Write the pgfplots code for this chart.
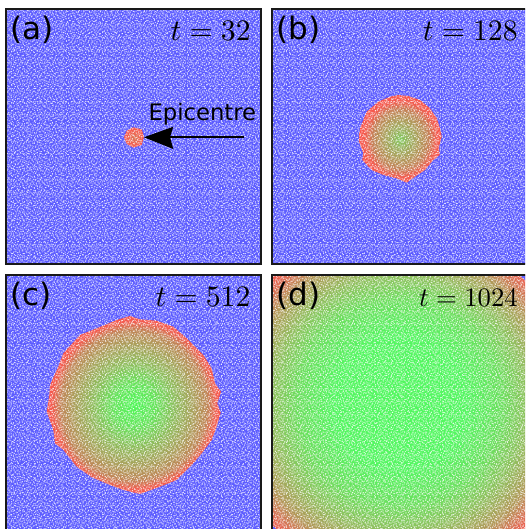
\documentclass[border=0pt]{standalone}
\usepackage{fontspec}
\setsansfont{DejaVu Sans}
\usepackage{pgfplots}
\pgfplotsset{compat=1.18}
\usetikzlibrary{patterns}

\definecolor{bgblue}{RGB}{70,70,255}
\definecolor{framec}{RGB}{25,25,25}

% mean colour against radius (bbox half-width = 25bp)
\pgfdeclareradialshading{blobA}{\pgfpointorigin}{rgb(0bp)=(.84,.40,.25); rgb(12bp)=(.92,.32,.23); rgb(25bp)=(.98,.24,.20); rgb(50bp)=(.98,.24,.20)}
\pgfdeclareradialshading{blobB}{\pgfpointorigin}{rgb(0bp)=(.44,.76,.28); rgb(5bp)=(.54,.66,.28); rgb(11bp)=(.64,.56,.27); rgb(17bp)=(.74,.44,.25); rgb(21.5bp)=(.94,.28,.22); rgb(25bp)=(.98,.24,.20); rgb(50bp)=(.98,.24,.20)}
\pgfdeclareradialshading{blobC}{\pgfpointorigin}{rgb(0bp)=(.22,.97,.26); rgb(6bp)=(.32,.88,.27); rgb(12bp)=(.50,.70,.27); rgb(17bp)=(.62,.58,.27); rgb(21bp)=(.72,.46,.25); rgb(23.5bp)=(.94,.28,.22); rgb(25bp)=(.98,.24,.20); rgb(50bp)=(.98,.24,.20)}
\pgfdeclareradialshading{blobD}{\pgfpointorigin}{rgb(0bp)=(.22,.97,.28); rgb(13bp)=(.24,.96,.30); rgb(20bp)=(.34,.86,.28); rgb(25bp)=(.50,.72,.28); rgb(30bp)=(.66,.54,.26); rgb(33bp)=(.84,.36,.24); rgb(35.4bp)=(.97,.24,.20); rgb(50bp)=(.97,.24,.20)}

% speckle tiles: hand-typed pixel lists, periods 11, 13 and 17
\newcommand{\pxrow}[2]{\foreach \c in {#2} {\pgfpathrectangle{\pgfpoint{\c pt}{#1pt}}{\pgfpoint{1pt}{1pt}}}}
\pgfdeclarepatternformonly{speckA}{\pgfpointorigin}{\pgfpoint{11pt}{11pt}}{\pgfpoint{11pt}{11pt}}{%
  \pxrow{0}{1}\pxrow{1}{7}\pxrow{2}{4}\pxrow{3}{9}\pxrow{4}{0,6}\pxrow{5}{3}\pxrow{6}{10}\pxrow{7}{5}\pxrow{8}{2,8}\pxrow{9}{0}\pxrow{10}{6,9}\pgfusepath{fill}}
\pgfdeclarepatternformonly{speckB}{\pgfpointorigin}{\pgfpoint{13pt}{13pt}}{\pgfpoint{13pt}{13pt}}{%
  \pxrow{0}{2,9}\pxrow{1}{5}\pxrow{2}{12}\pxrow{3}{0,7}\pxrow{4}{3}\pxrow{5}{10}\pxrow{6}{6}\pxrow{7}{1,11}\pxrow{8}{4}\pxrow{9}{8}\pxrow{10}{0,12}\pxrow{11}{3,6}\pxrow{12}{1,8,10}\pgfusepath{fill}}
\pgfdeclarepatternformonly{speckC}{\pgfpointorigin}{\pgfpoint{17pt}{17pt}}{\pgfpoint{17pt}{17pt}}{%
  \pxrow{0}{0,9}\pxrow{1}{7,12}\pxrow{2}{3,15}\pxrow{3}{6,13}\pxrow{4}{0,11}\pxrow{5}{2,14}\pxrow{6}{5,10}\pxrow{7}{8,16}\pxrow{8}{4,11}\pxrow{9}{1,14}\pxrow{10}{6,12}\pxrow{11}{3,9}\pxrow{12}{7,16}\pxrow{13}{0,4}\pxrow{14}{12,14}\pxrow{15}{5,10}\pxrow{16}{1,11}\pgfusepath{fill}}

\pgfplotsset{
  panel/.style={
    scale only axis, width=255pt, height=255pt, anchor=south west,
    xmin=0, xmax=255, ymin=0, ymax=255, y dir=reverse,
    xtick=\empty, ytick=\empty, axis on top,
    axis line style={framec, line width=1.3pt},
  },
}
\newcommand{\panelbg}{\addplot[draw=none, fill=bgblue] coordinates {(0,0)(255,0)(255,255)(0,255)} -- cycle;}
\newcommand{\speckle}{%
  \addplot[draw=none, fill=white, fill opacity=.12] coordinates {(0,0)(255,0)(255,255)(0,255)} -- cycle;
  \addplot[draw=none, pattern=speckA, pattern color=white, fill opacity=.7] coordinates {(0,0)(255,0)(255,255)(0,255)} -- cycle;
  \addplot[draw=none, pattern=speckB, pattern color=white, fill opacity=.7] coordinates {(0,0)(255,0)(255,255)(0,255)} -- cycle;
  \addplot[draw=none, pattern=speckC, pattern color=white, fill opacity=.7] coordinates {(0,0)(255,0)(255,255)(0,255)} -- cycle;}
\newcommand{\plabel}[3]{\node[anchor=base west, inner sep=0pt, font=\sffamily\fontsize{31}{33}\selectfont, text=black] at (axis cs:#1,#2) {#3};}
\newcommand{\tlabel}[4][2.97]{\node[anchor=base east, inner sep=0pt, scale=#1, font=\normalsize, text=black] at (axis cs:#2,#3) {$t=#4$};}

\begin{document}
\begin{tikzpicture}[x=1pt,y=1pt]
\path[use as bounding box, clip] (0pt,0pt) rectangle (525pt,529pt);

% (a)
\begin{axis}[panel, at={(6pt,265pt)}]
\panelbg
\addplot[draw=none, shading=blobA] coordinates {(127.3,118.3)(135.7,120.3)(138,127.7)(135.7,136)(127.3,138.7)(120.7,135)(118,128.3)(120.7,121.7)} -- cycle;
\speckle
\addplot[black, line width=1.8pt] coordinates {(160,128.3)(238.3,128.3)};
\addplot[draw=none, fill=black] coordinates {(138,128.3)(167.3,117.7)(164,128.3)(167.3,140)} -- cycle;
\plabel{4.5}{30.5}{(a)}
\tlabel{245.3}{32}{32}
\node[anchor=base west, inner sep=0pt, font=\sffamily\fontsize{22.7}{24}\selectfont] at (axis cs:142.3,111.7) {Epicentre};
\end{axis}

% (b)
\begin{axis}[panel, at={(272pt,265pt)}]
\panelbg
\addplot[draw=none, shading=blobB] coordinates {(126.3,86)(136.3,87)(148,91)(158,99.3)(164.7,109.3)(168,119.3)(169.7,127.7)(167,137.7)(167.7,146)(161.3,151)(153,161)(143,167.7)(134.7,173.7)(124.7,169.3)(111.3,166)(99.7,161)(90.3,151)(91.3,144.3)(87,132.7)(88,119.3)(94.7,102.7)(106.3,92.7)(118,87.7)} -- cycle;
\speckle
\plabel{4.5}{30.5}{(b)}
\tlabel{246.3}{32}{128}
\end{axis}

% (c)
\begin{axis}[panel, at={(6pt,-1pt)}]
\panelbg
\addplot[draw=none, shading=blobC] coordinates {(124,41)(134,44.3)(150.7,45.7)(167.3,51.7)(180.7,63.3)(189,71.7)(197.3,80)(205.7,93.3)(209,108.3)(215,116.7)(211.3,128.3)(214.7,137.7)(210.7,151.7)(205.7,165)(195.7,178.3)(187.3,188.3)(170.7,205)(154,211.7)(134,219)(117.3,215)(104,210)(85.7,202.3)(70.7,191.7)(57.3,175)(49,168.3)(47.3,155)(40.7,136.7)(43.3,120)(44,110)(52.3,91.7)(57.3,78.3)(74,60)(90.7,53.3)(110.7,45)} -- cycle;
\speckle
\plabel{4.5}{31}{(c)}
\tlabel{245}{31.7}{512}
\end{axis}

% (d)
\begin{axis}[panel, at={(272pt,-1pt)}]
\addplot[draw=none, shading=blobD] coordinates {(0,0)(255,0)(255,255)(0,255)} -- cycle;
\addplot[draw=none, fill=bgblue] coordinates {(247,0)(255,0)(255,7)} -- cycle;
\addplot[draw=none, fill=bgblue] coordinates {(0,250)(5,255)(0,255)} -- cycle;
\speckle
\plabel{4.5}{31}{(d)}
\tlabel[2.67]{246.3}{31.7}{1024}
\end{axis}
\end{tikzpicture}
\end{document}
